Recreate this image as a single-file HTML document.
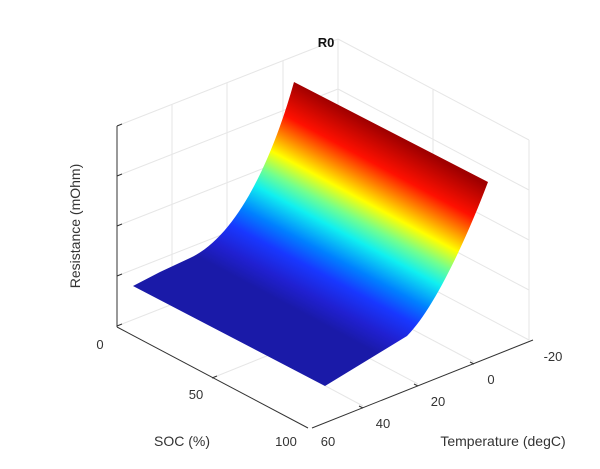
<!DOCTYPE html>
<html><head><meta charset="utf-8"><style>
body{margin:0;background:#fff;}
svg{display:block;font-family:"Liberation Sans",sans-serif;}
</style></head><body>
<svg width="600" height="469" viewBox="0 0 600 469">
<defs>
<linearGradient id="jet" gradientUnits="userSpaceOnUse" x1="200" y1="258" x2="295" y2="82">
<stop offset="0" stop-color="#1a1aa8"/>
<stop offset="0.1" stop-color="#2020d0"/>
<stop offset="0.22" stop-color="#1838ff"/>
<stop offset="0.32" stop-color="#0080ff"/>
<stop offset="0.45" stop-color="#10f0f0"/>
<stop offset="0.54" stop-color="#70ff90"/>
<stop offset="0.64" stop-color="#ffff00"/>
<stop offset="0.74" stop-color="#ff8000"/>
<stop offset="0.83" stop-color="#ff1000"/>
<stop offset="1" stop-color="#a00000"/>
</linearGradient>
</defs>
<g stroke="#e6e6e6" stroke-width="1" fill="none">
<line x1="117" y1="326" x2="338" y2="239"/>
<line x1="117" y1="276" x2="338" y2="189"/>
<line x1="117" y1="226" x2="338" y2="139"/>
<line x1="117" y1="176" x2="338" y2="89"/>
<line x1="117" y1="126" x2="338" y2="39"/>
<line x1="172" y1="304" x2="172" y2="104"/>
<line x1="227" y1="283" x2="227" y2="83"/>
<line x1="283" y1="261" x2="283" y2="61"/>
<line x1="338" y1="239" x2="338" y2="39"/>
<line x1="338" y1="239" x2="529" y2="340"/>
<line x1="338" y1="189" x2="529" y2="290"/>
<line x1="338" y1="139" x2="529" y2="240"/>
<line x1="338" y1="89" x2="529" y2="190"/>
<line x1="338" y1="39" x2="529" y2="140"/>
<line x1="433" y1="289" x2="433" y2="89"/>
<line x1="529" y1="340" x2="529" y2="140"/>
<line x1="212" y1="378" x2="433" y2="289"/>
<line x1="363" y1="406" x2="172" y2="304"/>
<line x1="418" y1="384" x2="227" y2="283"/>
<line x1="474" y1="362" x2="283" y2="261"/>
</g>
<path d="M133,286 L160,272 L190,258 C240,235 275,150 294,82 L488,182 C468,235 435,308 407,336 L325,386 Z" fill="url(#jet)"/>
<g stroke="#333" stroke-width="1" fill="none">
<line x1="117" y1="327" x2="308" y2="428"/>
<line x1="312" y1="428" x2="533" y2="340"/>
<line x1="117" y1="327" x2="117" y2="126"/>
<line x1="117" y1="126" x2="122" y2="124"/>
<line x1="117" y1="176" x2="122" y2="174"/>
<line x1="117" y1="226" x2="122" y2="224"/>
<line x1="117" y1="276" x2="122" y2="274"/>
<line x1="117" y1="326" x2="122" y2="324"/>
<line x1="212" y1="378" x2="217" y2="376"/>
<line x1="363" y1="408" x2="359" y2="406"/>
<line x1="418" y1="386" x2="414" y2="384"/>
<line x1="474" y1="364" x2="470" y2="362"/>
</g>
<g fill="#333" font-size="13">
<text x="326" y="47" text-anchor="middle" font-weight="bold" fill="#111">R0</text>
<text x="100" y="349" text-anchor="middle">0</text>
<text x="196" y="399" text-anchor="middle">50</text>
<text x="286" y="446" text-anchor="middle">100</text>
<text x="328" y="446" text-anchor="middle">60</text>
<text x="383" y="428" text-anchor="middle">40</text>
<text x="438" y="406" text-anchor="middle">20</text>
<text x="491" y="384" text-anchor="middle">0</text>
<text x="553" y="361" text-anchor="middle">-20</text>
<text x="182" y="446" text-anchor="middle" font-size="14">SOC (%)</text>
<text x="503" y="446" text-anchor="middle" font-size="14">Temperature (degC)</text>
<text transform="translate(80,226) rotate(-90)" text-anchor="middle" font-size="14">Resistance (mOhm)</text>
</g>
</svg>
</body></html>
